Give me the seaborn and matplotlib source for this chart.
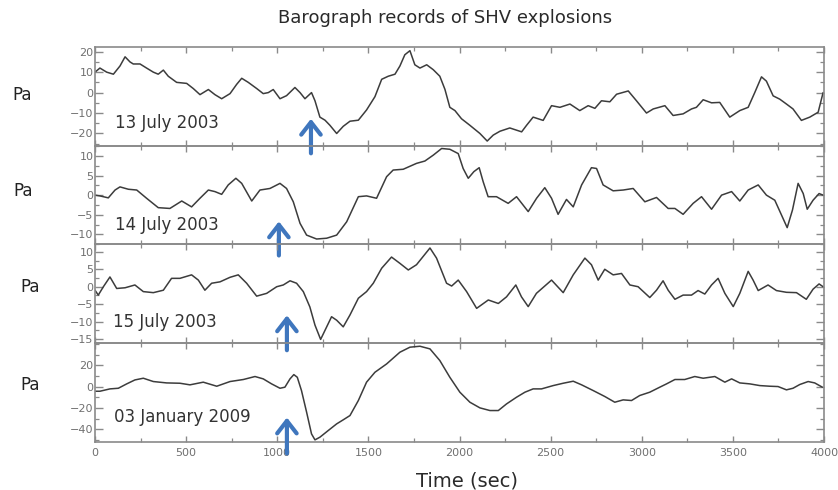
import numpy as np
import pandas as pd
import matplotlib
matplotlib.use("Agg")
import matplotlib.pyplot as plt
from matplotlib.ticker import MultipleLocator, FixedLocator
import seaborn as sns

# ---------------- data ----------------
t1 = [0,27,64,101,137,165,192,210,247,283,320,347,375,402,448,503,539,576,622,658,695,741,777,805,841,887,923,951,978,1015,1051,1097,1125,1152,1188,1207,1234,1262,1289,1326,1362,1399,1445,1490,1536,1573,1609,1646,1673,1700,1728,1755,1783,1820,1856,1892,1920,1947,1975,2011,2057,2112,2152,2185,2222,2276,2341,2368,2404,2459,2505,2551,2606,2660,2706,2743,2779,2825,2862,2926,2971,3026,3063,3127,3172,3227,3273,3300,3337,3383,3428,3483,3538,3584,3620,3657,3684,3721,3757,3794,3830,3876,3922,3968,3995]
v1 = [10,12,10,9,13,17.5,15,14,14,12,10,9,11,8,5,4.5,2,-1,1.5,-1,-3,-0.5,4,7,5,2,-0.5,0,1.5,-3,-1.5,2.5,0,-3,0,-4,-12,-13.5,-16,-20,-16.5,-14,-13.5,-8.5,-2,6.5,8,9,13,18.5,20.5,13.6,12,13.6,11.2,8,1.6,-7.2,-8.8,-12.8,-16,-20,-23.7,-20.8,-18.9,-17.3,-19.2,-16,-12,-13.6,-6.4,-7.2,-5.6,-8.8,-6.4,-7.7,-4,-4.5,-0.8,0.8,-4,-10,-8,-6.4,-11.2,-10.4,-8,-7.2,-3.5,-5,-4.8,-12,-8.8,-7.2,0,7.7,5.6,-1.6,-3.2,-5.6,-8,-13.6,-12,-9.6,0]

t2 = [0,27,73,110,137,183,229,283,347,411,476,530,576,622,658,695,731,773,805,860,905,960,1015,1051,1088,1125,1161,1216,1271,1326,1381,1445,1490,1545,1600,1636,1691,1764,1810,1856,1902,1947,1993,2020,2048,2079,2108,2130,2157,2203,2267,2313,2377,2423,2468,2505,2541,2587,2624,2670,2724,2752,2788,2843,2898,2953,3017,3081,3145,3182,3227,3282,3328,3383,3438,3493,3538,3584,3639,3684,3730,3767,3798,3827,3858,3886,3908,3940,3973,3995]
v2 = [0,-0.2,-0.7,1.3,2.1,1.5,1.3,-0.8,-3.2,-3.4,-1.5,-3,-0.8,1.3,0.9,0.2,2.6,4.3,3,-1.5,1.3,1.7,3,1.7,-1.7,-7.2,-10.2,-11.2,-11,-10.2,-6.8,-0.4,-0.2,-0.8,4.7,6.4,6.6,8.1,8.7,10.2,11.9,11.7,10.6,6.8,4.3,6,7,3.4,-0.4,-0.4,-2.1,-0.4,-4.2,-0.8,1.9,-0.8,-4.9,-1.1,-3,2.6,7,6.8,2.6,1.1,1.3,1.7,-1.7,-0.6,-3.4,-3.4,-4.9,-2.1,-0.4,-3.6,0,0.9,-1.5,1.3,2.6,0,-1.3,-5.1,-8.3,-3.8,3,0.4,-3.6,-1.3,0.4,0]

t3 = [0,18,46,82,119,165,219,265,320,375,420,466,530,567,603,640,686,741,786,832,887,942,997,1033,1070,1106,1143,1179,1207,1238,1262,1298,1326,1362,1399,1445,1490,1527,1573,1627,1673,1719,1764,1838,1874,1929,1957,1993,2039,2094,2158,2213,2258,2309,2340,2377,2422,2505,2569,2624,2688,2724,2761,2797,2843,2889,2935,2980,3044,3081,3117,3145,3182,3227,3273,3309,3346,3383,3419,3456,3502,3538,3584,3611,3639,3693,3739,3794,3849,3903,3940,3973,3995]
v3 = [-1,-2.4,0,2.8,-0.5,-0.3,0.5,-1.4,-1.7,-1,2.4,2.4,3.4,1.9,-1,1,1.4,2.7,3.4,1,-2.7,-1.9,0,0.5,1.7,1,-1.4,-5.8,-11,-15.1,-12.5,-8.6,-9.6,-11.5,-8.1,-3.3,-1.4,1,5.3,8.5,6.7,4.8,6.3,11.1,8.2,1,0.2,1.9,-1.4,-6.2,-3.8,-4.8,-2.9,0.5,-2.9,-5.7,-1.9,1.9,-1.7,3.4,8.2,6.3,1.9,5,3.4,3.8,0.5,0,-3.1,-1,1.7,-1,-3.6,-2.4,-2.4,-1.1,-2.1,0.5,2.4,-1.9,-5.7,-1.9,4.4,1.9,-1.1,0.5,-1.1,-1.6,-1.7,-3.6,-0.7,0.8,0]

t4 = [0,27,82,128,174,219,265,320,393,466,521,594,668,741,814,878,923,969,1015,1042,1070,1091,1110,1133,1161,1188,1207,1234,1280,1326,1362,1399,1445,1490,1536,1600,1673,1728,1783,1838,1892,1947,2002,2057,2112,2167,2213,2258,2313,2359,2404,2450,2514,2569,2624,2670,2734,2798,2852,2898,2944,2989,3044,3099,3136,3182,3236,3291,3337,3401,3456,3493,3538,3593,3648,3703,3748,3794,3830,3867,3913,3949,3991]
v4 = [-4.4,-4.4,-2.2,-1.6,2.5,6.2,7.8,4.7,3.4,3.1,1.6,4.1,0.3,4.7,6.6,9.4,7.2,2.5,-1.6,-0.6,7.2,11.2,8.7,-3.8,-24,-44.4,-50,-47.5,-41.2,-35,-31.2,-27.2,-13.1,4.1,13.4,21.2,32.2,36.9,37.8,35.3,24.4,8.7,-5.3,-14.7,-20,-22.5,-22.5,-16.3,-10,-5.3,-2.2,-2.2,0.9,3.1,5,1.6,-3.8,-9.4,-14.7,-12.5,-13.1,-8.4,-5.3,-0.6,2.5,6.6,6.6,9.4,7.8,9.4,4.1,7.2,3.4,2.5,0.9,0.3,0,-3.1,-1.6,1.9,4.7,3.4,-0.6]

dates = ["13 July 2003", "14 July 2003", "15 July 2003", "03 January 2009"]
y_limits = [(-26, 22.3), (-12.6, 12.6), (-16.2, 12.1), (-52, 40.6)]
y_ticks = [[-20, -10, 0, 10, 20], [-10, -5, 0, 5, 10],
           [-15, -10, -5, 0, 5, 10], [-40, -20, 0, 20]]
y_minor = [5, 2.5, 2.5, 10]
# arrows: time (s), head value, tail value (panel data units)
arrow_t = [1185, 1009, 1053, 1053]
arrow_head = [-12.8, -6.7, -8.2, -29]
arrow_tail = [-29.7, -15.4, -18.2, -62.8]
# date label anchors (time, value)
label_t = [110, 110, 100, 105]
label_v = [-14.8, -7.7, -10.1, -29]

title = "Barograph records of SHV explosions"
xlabel = "Time (sec)"
ylabel = "Pa"

# ---------------- style ----------------
sns.set_style("ticks")
plt.rcParams["font.family"] = ["DejaVu Sans"]
plt.rcParams.update({
    "xtick.direction": "in", "ytick.direction": "in",
    "xtick.top": True, "ytick.right": True,
    "xtick.minor.visible": True, "ytick.minor.visible": True,
})

W, H = 838, 490
fig = plt.figure(figsize=(W / 100, H / 100), dpi=100)

left, right = 95 / W, 824 / W
top_px, bot_px = 47, 442
ph = (bot_px - top_px) / 4

series = [(t1, v1), (t2, v2), (t3, v3), (t4, v4)]
axes = []
spine_col = "#8a8a8a"
line_col = "#3c3c3c"
tick_col = "#707070"

for i, (tt, vv) in enumerate(series):
    y0 = 1 - (top_px + (i + 1) * ph) / H
    ax = fig.add_axes([left, y0, right - left, ph / H])
    ax.set_facecolor("none")
    df = pd.DataFrame({"t": tt, "p": vv})
    sns.lineplot(data=df, x="t", y="p", ax=ax, color=line_col, lw=1.1, sort=False)
    ax.set_xlim(0, 4000)
    ax.set_ylim(*y_limits[i])
    ax.xaxis.set_major_locator(MultipleLocator(500))
    ax.xaxis.set_minor_locator(MultipleLocator(250))
    ax.yaxis.set_major_locator(FixedLocator(y_ticks[i]))
    ax.yaxis.set_minor_locator(MultipleLocator(y_minor[i]))
    ax.set_xlabel("")
    ax.set_ylabel("")
    for s in ax.spines.values():
        s.set_visible(True)
        s.set_color(spine_col)
        s.set_linewidth(1.2)
    ax.tick_params(which="major", length=6, width=1, color=spine_col,
                   labelsize=8, labelcolor=tick_col, pad=1)
    ax.tick_params(which="minor", length=3, width=0.9, color=spine_col)
    ax.tick_params(axis="x", which="major", length=4)
    if i < 3:
        ax.tick_params(axis="x", labelbottom=False)
    else:
        ax.tick_params(axis="x", pad=4)
    ax.text(label_t[i], label_v[i], dates[i], fontsize=12, color="#333333",
            ha="left", va="center")
    ax.annotate("", xy=(arrow_t[i], arrow_head[i]), xytext=(arrow_t[i], arrow_tail[i]),
                xycoords="data", textcoords="data", annotation_clip=False,
                arrowprops=dict(arrowstyle="->, head_length=0.45, head_width=0.35",
                                color="#3f76bd", lw=3, mutation_scale=20,
                                shrinkA=0, shrinkB=0),
                zorder=10)
    axes.append(ax)

# "Pa" labels
pa_pos = [(12, 95), (13, 191), (20, 287), (20, 385)]
for (px, py) in pa_pos:
    fig.text(px / W, 1 - py / H, ylabel, fontsize=12, color="#222222",
             ha="left", va="center")

fig.text(445 / W, 1 - 18 / H, title, fontsize=13, color="#2a2a2a",
         ha="center", va="center")
fig.text(467 / W, 1 - 481 / H, xlabel, fontsize=14, color="#2a2a2a",
         ha="center", va="center")

fig.savefig("out.png", dpi=100)
